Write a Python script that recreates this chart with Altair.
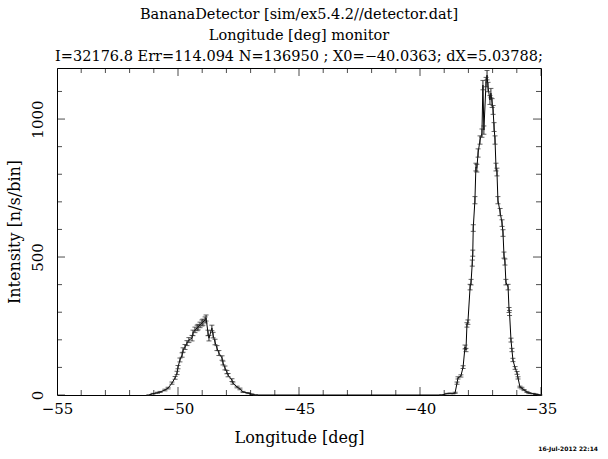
import altair as alt
import pandas as pd

# ---- data (Longitude [deg], Intensity [n/s/bin], error) ----
left_x = [-51.2, -51.03, -50.85, -50.74, -50.54, -50.41, -50.25, -50.12, -50.04, -50.00,
          -49.92, -49.83, -49.79, -49.71, -49.63, -49.55, -49.42, -49.38, -49.30, -49.21,
          -49.17, -49.09, -49.01, -48.97, -48.88, -48.84, -48.76, -48.72, -48.60, -48.55,
          -48.47, -48.39, -48.31, -48.18, -48.14, -48.06, -47.98, -47.93, -47.77, -47.73,
          -47.56, -47.44, -47.31, -47.11, -46.95, -46.8]
left_y = [0, 5, 8, 11, 18, 25, 43, 62, 80, 101,
          127, 145, 163, 174, 188, 199, 206, 225, 236, 243,
          246, 254, 261, 264, 272, 279, 225, 206, 243, 217,
          192, 170, 152, 134, 116, 98, 83, 72, 54, 43,
          29, 22, 11, 7, 3, 0]
left_err = [0, 1, 2, 2, 3, 3, 4, 5, 6, 6,
            7, 8, 8, 9, 9, 9, 10, 10, 10, 10,
            10, 10, 11, 11, 11, 11, 10, 10, 10, 10,
            10, 9, 9, 8, 7, 7, 6, 6, 5, 4,
            3, 3, 2, 2, 1, 0]

right_x = [-39.1, -38.88, -38.76, -38.64, -38.55, -38.47, -38.43, -38.31, -38.22, -38.14,
           -38.10, -38.06, -38.02, -37.93, -37.89, -37.84, -37.82, -37.80, -37.73, -37.69,
           -37.65, -37.60, -37.52, -37.44, -37.40, -37.36, -37.27, -37.23, -37.19, -37.11,
           -37.07, -37.02, -36.98, -36.94, -36.90, -36.86, -36.82, -36.78, -36.69, -36.61,
           -36.57, -36.53, -36.49, -36.45, -36.36, -36.32, -36.30, -36.24, -36.20, -36.16,
           -36.07, -35.99, -35.95, -35.87, -35.79, -35.70, -35.58, -35.50, -35.33, -35.21,
           -35.05]
right_y = [0, 5, 6, 5, 8, 43, 62, 69, 101, 174,
           163, 254, 264, 391, 409, 478, 514, 605, 706, 826,
           822, 877, 924, 949, 1123, 960, 1134, 1159, 1116, 1069,
           1094, 1058, 1033, 971, 924, 826, 808, 706, 663, 623,
           587, 507, 482, 409, 391, 308, 297, 199, 163, 127,
           98, 80, 62, 29, 25, 18, 11, 7, 5, 3,
           0]
right_err = [0, 1, 1, 1, 2, 4, 4, 4, 5, 7,
             6, 8, 8, 10, 10, 11, 11, 12, 13, 14,
             14, 15, 15, 15, 17, 15, 17, 17, 17, 16,
             17, 16, 16, 16, 15, 14, 14, 13, 13, 12,
             12, 11, 11, 10, 10, 9, 9, 7, 6, 6,
             5, 5, 4, 3, 3, 2, 2, 2, 1, 1,
             0]

x_major = [-55, -50, -45, -40, -35]
x_minor = [-54, -53, -52, -51, -49, -48, -47, -46, -44, -43, -42, -41, -39, -38, -37, -36]
y_major = [0, 500, 1000]
y_minor = [100, 200, 300, 400, 600, 700, 800, 900, 1100]

title_lines = ["BananaDetector [sim/ex5.4.2//detector.dat]",
               "Longitude [deg] monitor",
               "I=32176.8 Err=114.094 N=136950 ; X0=\u221240.0363; dX=5.03788;"]
date_text = ["16-Jul-2012 22:14"]

X_DOM = [-55, -35]
Y_DOM = [0, 1185]

# ---- build ----
xs = alt.Scale(domain=X_DOM, nice=False, zero=False)
ys = alt.Scale(domain=Y_DOM, nice=False, zero=False)

xv = left_x + right_x
yv = left_y + right_y
ev = left_err + right_err
df = pd.DataFrame({"x": xv, "y": yv,
                   "lo": [a - b for a, b in zip(yv, ev)],
                   "hi": [a + b for a, b in zip(yv, ev)]})

SERIF = "DejaVu Serif"

line = alt.Chart(df).mark_line(color="black", strokeWidth=1).encode(
    x=alt.X("x:Q", scale=xs,
            axis=alt.Axis(values=x_major, ticks=False, domain=False, grid=False,
                          labelFont=SERIF, labelFontSize=15, labelColor="black",
                          labelFlush=False, labelOverlap=False,
                          labelPadding=6, title="Longitude [deg]", titleFont=SERIF,
                          titleFontSize=16, titleFontWeight="normal", titleColor="black",
                          titlePadding=13)),
    y=alt.Y("y:Q", scale=ys,
            axis=alt.Axis(values=y_major, ticks=False, domain=False, grid=False, format="d",
                          labelFont=SERIF, labelFontSize=15, labelColor="black",
                          labelFlush=False, labelOverlap=False,
                          labelAngle=-90, labelPadding=12, labelAlign="center",
                          labelBaseline="bottom",
                          title="Intensity [n/s/bin]", titleFont=SERIF,
                          titleFontSize=16, titleFontWeight="normal", titleColor="black",
                          titlePadding=8)),
)

ebar = alt.Chart(df).mark_rule(color="#222", strokeWidth=1).encode(
    x=alt.X("x:Q", scale=xs), y=alt.Y("lo:Q", scale=ys), y2="hi:Q")
cap_lo = alt.Chart(df).mark_tick(orient="horizontal", size=5, thickness=1, color="#222").encode(
    x=alt.X("x:Q", scale=xs), y=alt.Y("lo:Q", scale=ys))
cap_hi = alt.Chart(df).mark_tick(orient="horizontal", size=5, thickness=1, color="#222").encode(
    x=alt.X("x:Q", scale=xs), y=alt.Y("hi:Q", scale=ys))


def xticks(vals, size):
    d = pd.DataFrame({"v": vals})
    out = []
    for edge in Y_DOM:
        out.append(alt.Chart(d).mark_tick(orient="vertical", size=size, thickness=1,
                                          color="black", clip=True).encode(
            x=alt.X("v:Q", scale=xs), y=alt.datum(edge)))
    return out


def yticks(vals, size):
    d = pd.DataFrame({"v": vals})
    out = []
    for edge in X_DOM:
        out.append(alt.Chart(d).mark_tick(orient="horizontal", size=size, thickness=1,
                                          color="black", clip=True).encode(
            y=alt.Y("v:Q", scale=ys), x=alt.datum(edge)))
    return out


tick_layers = xticks(x_major, 16) + xticks(x_minor, 10) + yticks(y_major, 16) + yticks(y_minor, 10)

date = alt.Chart(pd.DataFrame({"t": date_text})).mark_text(
    font="DejaVu Sans", fontSize=6, fontWeight="bold", align="right", color="black"
).encode(x=alt.value(541), y=alt.value(381), text="t:N")

chart = alt.layer(line, ebar, cap_lo, cap_hi, *tick_layers, date).properties(
    width=484, height=327,
    autosize=alt.AutoSizeParams(type="none"),
    padding={"left": 57, "top": 68, "right": 67, "bottom": 64},
    title=alt.TitleParams(text=title_lines, font=SERIF, fontSize=14.5, fontWeight="normal",
                          color="black", lineHeight=21, anchor="middle", offset=4),
    background="white",
).configure_view(stroke="black", strokeWidth=1)

chart.save("out.html", embed_options={"renderer": "svg", "actions": False})
